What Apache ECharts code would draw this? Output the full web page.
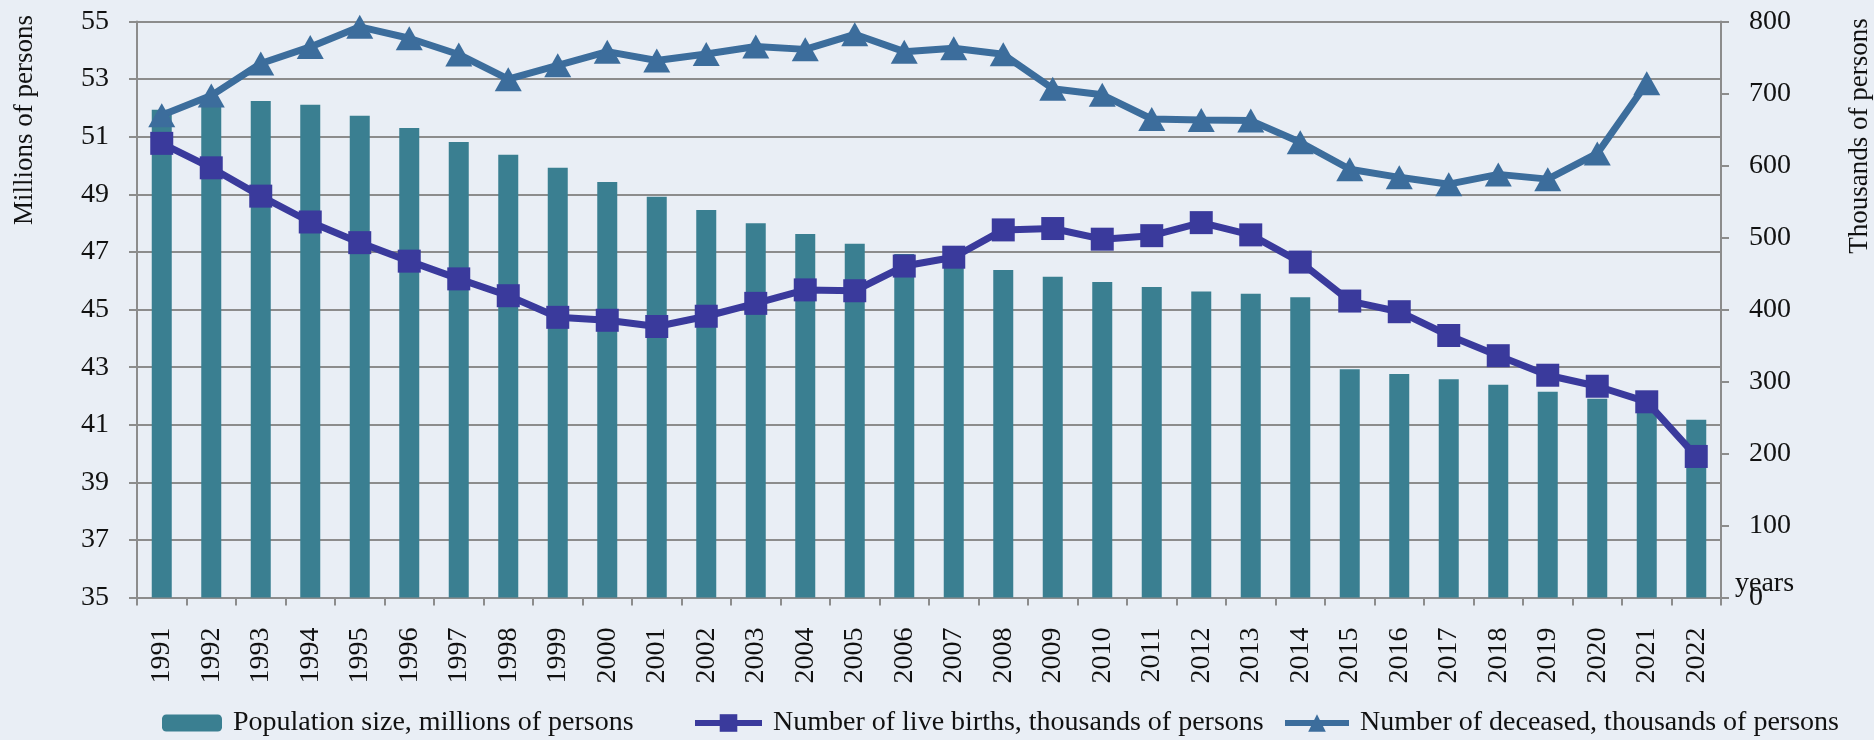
<!DOCTYPE html>
<html>
<head>
<meta charset="utf-8">
<script src="https://cdn.jsdelivr.net/npm/echarts@6/dist/echarts.min.js"></script>
<style>
  html, body { margin: 0; padding: 0; background: #e9eef5; }
  #chart { width: 1874px; height: 740px; }
</style>
</head>
<body>
<div id="chart"></div>
<script>
const years = ['1991','1992','1993','1994','1995','1996','1997','1998','1999','2000','2001','2002','2003','2004','2005','2006','2007','2008','2009','2010','2011','2012','2013','2014','2015','2016','2017','2018','2019','2020','2021','2022'];
const population = [51.94,52.06,52.24,52.11,51.73,51.30,50.82,50.37,49.92,49.43,48.92,48.46,48.00,47.62,47.28,46.93,46.65,46.37,46.14,45.96,45.78,45.63,45.55,45.43,42.93,42.76,42.58,42.39,42.15,41.90,41.59,41.17];
const births = [630.8,596.8,557.5,521.6,492.9,467.2,442.6,419.2,389.2,385.1,376.5,390.7,408.6,427.3,426.1,460.4,472.7,510.6,512.5,497.7,502.6,520.7,503.7,465.9,411.8,397.0,364.0,335.9,308.8,293.5,271.9,196];
const deceased = [669.9,697.1,741.7,764.7,792.6,776.7,754.2,719.9,739.2,758.1,745.9,754.9,765.4,761.3,782.2,758.1,762.9,754.5,706.7,698.2,664.6,663.1,662.4,632.3,594.8,583.6,574.1,587.7,581.1,616.8,714.3,null];
const leftTicks = { min: 35, max: 55, interval: 2 };
const rightTicks = { min: 0, max: 800, interval: 100 };

const FONT = 'Liberation Serif';
const names = ['Population size, millions of persons', 'Number of live births, thousands of persons', 'Number of deceased, thousands of persons'];
const colBar = '#3a7f91', colBirth = '#3a3a9c', colDead = '#3c6d9c';
const gridCol = '#8c8c8c';

const chart = echarts.init(document.getElementById('chart'));
const legendText = { fontFamily: FONT, fontSize: 28, color: '#111', padding: [0, 0, 0, 6] };
chart.setOption({
  backgroundColor: '#e9eef5',
  textStyle: { fontFamily: FONT },
  grid: { left: 137, right: 153, top: 21.5, bottom: 142.4 },
  legend: [
    { data: [names[0]], left: 157, top: 704, itemWidth: 60, itemHeight: 17, textStyle: legendText },
    { data: [names[1]], left: 687, top: 704, itemWidth: 67, itemHeight: 22, lineStyle: { width: 6 }, textStyle: legendText },
    { data: [names[2]], left: 1277, top: 704, itemWidth: 64, itemHeight: 22, lineStyle: { width: 6 }, textStyle: legendText }
  ],
  xAxis: {
    type: 'category', data: years,
    name: 'years', nameLocation: 'end', nameGap: 14, nameMoveOverlap: false,
    nameTextStyle: { fontFamily: FONT, fontSize: 28, color: '#111', verticalAlign: 'bottom', align: 'left' },
    axisLine: { lineStyle: { color: gridCol, width: 2 } },
    axisTick: { show: true, length: 8, lineStyle: { color: gridCol, width: 2 } },
    axisLabel: { rotate: 90, margin: 30, fontFamily: FONT, fontSize: 28, color: '#111' }
  },
  yAxis: [
    {
      type: 'value', min: leftTicks.min, max: leftTicks.max, interval: leftTicks.interval,
      axisLine: { show: true, lineStyle: { color: gridCol, width: 2 } },
      axisTick: { show: true, length: 8, lineStyle: { color: gridCol, width: 2 } },
      splitLine: { lineStyle: { color: gridCol, width: 2 } },
      axisLabel: { margin: 28, fontFamily: FONT, fontSize: 28, color: '#111' }
    },
    {
      type: 'value', min: rightTicks.min, max: rightTicks.max, interval: rightTicks.interval, position: 'right',
      axisLine: { show: true, lineStyle: { color: gridCol, width: 2 } },
      axisTick: { show: true, length: 8, lineStyle: { color: gridCol, width: 2 } },
      splitLine: { show: false },
      axisLabel: { margin: 28, fontFamily: FONT, fontSize: 28, color: '#111' }
    }
  ],
  series: [
    { name: names[0], type: 'bar', data: population, barWidth: 20, itemStyle: { color: colBar }, z: 1 },
    { name: names[1], type: 'line', yAxisIndex: 1, data: births, symbol: 'rect', symbolSize: 23,
      lineStyle: { color: colBirth, width: 7 }, itemStyle: { color: colBirth }, z: 3 },
    { name: names[2], type: 'line', yAxisIndex: 1, data: deceased, symbol: 'triangle', symbolSize: [27, 24],
      lineStyle: { color: colDead, width: 7 }, itemStyle: { color: colDead }, z: 2 }
  ],
  graphic: [
    { type: 'text', x: 25, y: 120, rotation: Math.PI / 2,
      style: { text: 'Millions of persons', font: '27px "Liberation Serif"', fill: '#111', align: 'center', verticalAlign: 'middle' } },
    { type: 'text', x: 1860, y: 136, rotation: Math.PI / 2,
      style: { text: 'Thousands of persons', font: '27px "Liberation Serif"', fill: '#111', align: 'center', verticalAlign: 'middle' } }
  ]
});
</script>
</body>
</html>
